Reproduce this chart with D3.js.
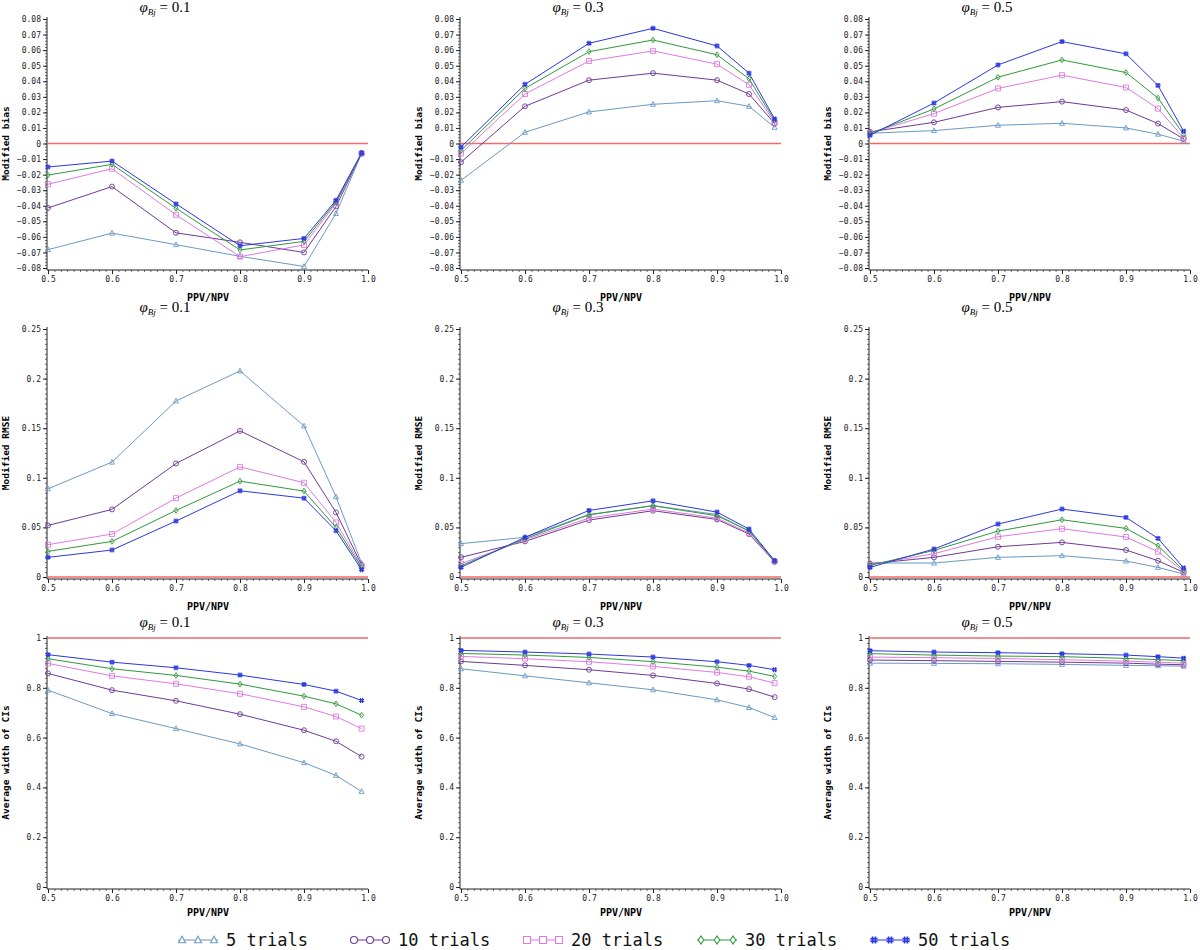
<!DOCTYPE html>
<html>
<head>
<meta charset="utf-8">
<script src="https://cdn.jsdelivr.net/npm/d3@7"></script>
<style>
  html, body { margin: 0; padding: 0; background: #fff; }
  svg { display: block; }
</style>
</head>
<body>
<svg id="chart" width="1200" height="950"></svg>
<script>
// ---------------- DATA ----------------
const ppv = [0.5, 0.6, 0.7, 0.8, 0.9, 0.95, 0.99];
const seriesNames = ["5 trials", "10 trials", "20 trials", "30 trials", "50 trials"];
const phiLabels = ["0.1", "0.3", "0.5"];

// Modified bias (rows: 5, 10, 20, 30, 50 trials)
const biasPhi01 = [
  [-0.0682, -0.0576, -0.0650, -0.0725, -0.0790, -0.0450, -0.0064],
  [-0.0414, -0.0277, -0.0574, -0.0635, -0.0700, -0.0405, -0.0064],
  [-0.0262, -0.0162, -0.0458, -0.0727, -0.0652, -0.0384, -0.0064],
  [-0.0203, -0.0134, -0.0416, -0.0684, -0.0629, -0.0375, -0.0064],
  [-0.0151, -0.0113, -0.0388, -0.0657, -0.0610, -0.0365, -0.0060]
];
const biasPhi03 = [
  [-0.0237, 0.0072, 0.0203, 0.0252, 0.0275, 0.0239, 0.0104],
  [-0.0120, 0.0239, 0.0407, 0.0452, 0.0407, 0.0318, 0.0128],
  [-0.0064, 0.0318, 0.0530, 0.0595, 0.0510, 0.0377, 0.0136],
  [-0.0045, 0.0354, 0.0590, 0.0665, 0.0570, 0.0416, 0.0147],
  [-0.0023, 0.0380, 0.0644, 0.0740, 0.0627, 0.0452, 0.0158]
];
const biasPhi05 = [
  [0.0066, 0.0083, 0.0117, 0.0130, 0.0100, 0.0060, 0.0015],
  [0.0075, 0.0136, 0.0232, 0.0269, 0.0215, 0.0128, 0.0030],
  [0.0068, 0.0192, 0.0354, 0.0439, 0.0360, 0.0224, 0.0036],
  [0.0064, 0.0222, 0.0426, 0.0537, 0.0456, 0.0292, 0.0058],
  [0.0053, 0.0260, 0.0505, 0.0655, 0.0576, 0.0373, 0.0079]
];
// Modified RMSE
const rmsePhi01 = [
  [0.0889, 0.1158, 0.1775, 0.2077, 0.1523, 0.0809, 0.0140],
  [0.0520, 0.0681, 0.1144, 0.1473, 0.1161, 0.0651, 0.0120],
  [0.0326, 0.0433, 0.0795, 0.1110, 0.0950, 0.0550, 0.0110],
  [0.0258, 0.0359, 0.0671, 0.0966, 0.0866, 0.0500, 0.0097],
  [0.0198, 0.0272, 0.0564, 0.0869, 0.0795, 0.0466, 0.0074]
];
const rmsePhi03 = [
  [0.0336, 0.0400, 0.0630, 0.0720, 0.0630, 0.0460, 0.0165],
  [0.0198, 0.0359, 0.0574, 0.0668, 0.0580, 0.0433, 0.0154],
  [0.0134, 0.0376, 0.0594, 0.0685, 0.0594, 0.0443, 0.0158],
  [0.0114, 0.0386, 0.0627, 0.0718, 0.0617, 0.0466, 0.0158],
  [0.0097, 0.0400, 0.0671, 0.0768, 0.0654, 0.0483, 0.0164]
];
const rmsePhi05 = [
  [0.0141, 0.0141, 0.0198, 0.0215, 0.0161, 0.0097, 0.0030],
  [0.0134, 0.0198, 0.0305, 0.0349, 0.0272, 0.0164, 0.0047],
  [0.0124, 0.0235, 0.0406, 0.0487, 0.0403, 0.0255, 0.0057],
  [0.0117, 0.0268, 0.0463, 0.0577, 0.0490, 0.0315, 0.0067],
  [0.0097, 0.0282, 0.0534, 0.0685, 0.0601, 0.0389, 0.0091]
];
// Average width of CIs
const widthPhi01 = [
  [0.7906, 0.6966, 0.6362, 0.5745, 0.4993, 0.4483, 0.3839],
  [0.8577, 0.7906, 0.7477, 0.6940, 0.6295, 0.5852, 0.5235],
  [0.8980, 0.8480, 0.8160, 0.7760, 0.7235, 0.6846, 0.6360],
  [0.9168, 0.8765, 0.8497, 0.8148, 0.7664, 0.7356, 0.6900],
  [0.9330, 0.9030, 0.8805, 0.8510, 0.8134, 0.7866, 0.7490]
];
const widthPhi03 = [
  [0.8765, 0.8480, 0.8200, 0.7920, 0.7517, 0.7208, 0.6805],
  [0.9060, 0.8900, 0.8725, 0.8497, 0.8174, 0.7946, 0.7624],
  [0.9260, 0.9168, 0.9047, 0.8860, 0.8617, 0.8443, 0.8188],
  [0.9380, 0.9315, 0.9220, 0.9050, 0.8830, 0.8670, 0.8456],
  [0.9503, 0.9436, 0.9356, 0.9235, 0.9047, 0.8900, 0.8725]
];
const widthPhi05 = [
  [0.8990, 0.8980, 0.8966, 0.8940, 0.8900, 0.8886, 0.8870],
  [0.9114, 0.9090, 0.9060, 0.9030, 0.8990, 0.8950, 0.8926],
  [0.9235, 0.9210, 0.9180, 0.9130, 0.9070, 0.9030, 0.8990],
  [0.9370, 0.9315, 0.9275, 0.9250, 0.9180, 0.9130, 0.9090],
  [0.9490, 0.9436, 0.9410, 0.9370, 0.9315, 0.9250, 0.9190]
];

// axis tick values
const xTicks = [0.5, 0.6, 0.7, 0.8, 0.9, 1.0];
const xTickLabels = ["0.5", "0.6", "0.7", "0.8", "0.9", "1.0"];
const biasTicks = [-0.08, -0.07, -0.06, -0.05, -0.04, -0.03, -0.02, -0.01, 0, 0.01, 0.02, 0.03, 0.04, 0.05, 0.06, 0.07, 0.08];
const rmseTicks = [0, 0.05, 0.1, 0.15, 0.2, 0.25];
const widthTicks = [0, 0.2, 0.4, 0.6, 0.8, 1];
const rowTitles = ["Modified bias", "Modified RMSE", "Average width of CIs"];
const refLines = [0, 0, 1];

// ---------------- STYLE / LAYOUT ----------------
const colors = ["#6b9ac4", "#6f3a94", "#e07ae0", "#2f9a3a", "#2b38e0"];
const markers = ["triangle", "circle", "square", "diamond", "hash"];
const colX = [48, 461, 870];
const plotW = 320;
const rowY = [[19, 268], [329, 577], [638, 887]];
const xLabelY = [297, 606, 912];
const titleY = [12, 312, 627];
const monoFont = "'DejaVu Sans Mono', 'Liberation Mono', monospace";

const rows = [
  { data: [biasPhi01, biasPhi03, biasPhi05], ticks: biasTicks, domain: [-0.08, 0.08], minor: 5,
    fmt: v => v === 0 ? "0" : d3.format(".2f")(v) },
  { data: [rmsePhi01, rmsePhi03, rmsePhi05], ticks: rmseTicks, domain: [0, 0.25], minor: 10,
    fmt: v => v === 0 ? "0" : d3.format("~g")(v) },
  { data: [widthPhi01, widthPhi03, widthPhi05], ticks: widthTicks, domain: [0, 1], minor: 10,
    fmt: v => d3.format("~g")(v) }
];

const svg = d3.select("#chart");

function markerPath(type, s) {
  const h = s / 2;
  switch (type) {
    case "triangle": return `M0,${-h * 1.1}L${h},${h * 0.8}L${-h},${h * 0.8}Z`;
    case "circle": return d3.symbol(d3.symbolCircle, Math.PI * h * h)();
    case "square": return `M${-h},${-h}H${h}V${h}H${-h}Z`;
    case "diamond": return `M0,${-h * 1.15}L${h * 0.8},0L0,${h * 1.15}L${-h * 0.8},0Z`;
    case "hash": {
      const a = h * 0.4;
      return `M${-a},${-h}V${h}M${a},${-h}V${h}M${-h},${-a}H${h}M${-h},${a}H${h}`;
    }
  }
}

rows.forEach((row, ri) => {
  const [yTop, yBot] = rowY[ri];
  const y = d3.scaleLinear().domain(row.domain).range([yBot, yTop]);
  const step = row.ticks[1] - row.ticks[0];

  row.data.forEach((panel, ci) => {
    const x0 = colX[ci];
    const x = d3.scaleLinear().domain([0.5, 1.0]).range([x0, x0 + plotW]);
    const g = svg.append("g");

    // minor ticks Y
    const minorY = d3.range(row.domain[0], row.domain[1] + 1e-9, step / row.minor);
    g.append("g")
      .attr("transform", `translate(${x0 - 1},0)`)
      .call(d3.axisLeft(y).tickValues(minorY).tickSize(2).tickFormat(""))
      .call(s => s.select(".domain").remove())
      .call(s => s.selectAll("line").attr("stroke", "#333").attr("stroke-width", 0.7));
    // major Y axis
    const yAxis = g.append("g")
      .attr("transform", `translate(${x0 - 1},0)`)
      .call(d3.axisLeft(y).tickValues(row.ticks).tickSize(4).tickSizeOuter(0).tickFormat(row.fmt).tickPadding(2));
    yAxis.select(".domain").attr("stroke", "#222").attr("d", `M0,${yTop - 2}V${yBot + 2}`);
    yAxis.selectAll("line").attr("stroke", "#222");
    yAxis.selectAll("text").attr("font-family", monoFont).attr("font-size", 8).attr("fill", "#222");

    // minor ticks X
    const minorX = d3.range(0.5, 1.0 + 1e-9, 0.01);
    g.append("g")
      .attr("transform", `translate(0,${yBot + 2})`)
      .call(d3.axisBottom(x).tickValues(minorX).tickSize(2).tickFormat(""))
      .call(s => s.select(".domain").remove())
      .call(s => s.selectAll("line").attr("stroke", "#333").attr("stroke-width", 0.7));
    const xAxis = g.append("g")
      .attr("transform", `translate(0,${yBot + 2})`)
      .call(d3.axisBottom(x).tickValues(xTicks).tickSize(4).tickSizeOuter(0)
        .tickFormat((d, i) => xTickLabels[i]).tickPadding(2));
    xAxis.select(".domain").attr("stroke", "#222").attr("d", `M${x0 - 1},0H${x0 + plotW}`);
    xAxis.selectAll("line").attr("stroke", "#222");
    xAxis.selectAll("text").attr("font-family", monoFont).attr("font-size", 8).attr("fill", "#222");

    // Y label
    const cy = (yTop + yBot) / 2;
    g.append("text")
      .attr("transform", `translate(${x0 - 39},${cy}) rotate(-90)`)
      .attr("text-anchor", "middle")
      .attr("font-family", monoFont).attr("font-size", 9.5).attr("font-weight", "bold")
      .text(rowTitles[ri]);
    // X label
    g.append("text")
      .attr("x", x0 + plotW / 2).attr("y", xLabelY[ri] + 4)
      .attr("text-anchor", "middle")
      .attr("font-family", monoFont).attr("font-size", 10).attr("font-weight", "bold")
      .text("PPV/NPV");
    // Title
    const t = g.append("text")
      .attr("x", x0 + plotW / 2 - 43).attr("y", titleY[ri])
      .attr("text-anchor", "middle")
      .attr("font-family", "'Liberation Serif', 'Times New Roman', serif").attr("font-size", 15);
    t.append("tspan").attr("font-style", "italic").text("φ");
    t.append("tspan").attr("font-style", "italic").attr("font-size", 9).attr("dy", 3).text("Bj");
    t.append("tspan").attr("dy", -3).text(" = " + phiLabels[ci]);

    // Reference red line
    g.append("line")
      .attr("x1", x0).attr("x2", x0 + plotW)
      .attr("y1", y(refLines[ri])).attr("y2", y(refLines[ri]))
      .attr("stroke", "#f06a6a").attr("stroke-width", 1.5);

    // Series
    const line = d3.line().x((d, i) => x(ppv[i])).y(d => y(d));
    panel.forEach((vals, si) => {
      g.append("path")
        .attr("d", line(vals))
        .attr("fill", "none")
        .attr("stroke", colors[si])
        .attr("stroke-width", 1);
      g.selectAll(null).data(vals).enter().append("path")
        .attr("transform", (d, i) => `translate(${x(ppv[i])},${y(d)})`)
        .attr("d", markerPath(markers[si], 5))
        .attr("fill", "none")
        .attr("stroke", colors[si])
        .attr("stroke-width", markers[si] === "hash" ? 1.2 : 0.9);
    });
  });
});

// ---------------- LEGEND ----------------
const legendSymX = [178, 350, 523, 697, 870];
const legendY = 940;
const lg = svg.append("g");
seriesNames.forEach((name, i) => {
  const sx = legendSymX[i];
  lg.append("line")
    .attr("x1", sx).attr("x2", sx + 40)
    .attr("y1", legendY).attr("y2", legendY)
    .attr("stroke", colors[i]).attr("stroke-width", 1.2);
  [4, 20, 36].forEach(off => {
    lg.append("path")
      .attr("transform", `translate(${sx + off},${legendY})`)
      .attr("d", markerPath(markers[i], 7))
      .attr("fill", "#fff")
      .attr("stroke", colors[i])
      .attr("stroke-width", markers[i] === "hash" ? 1.5 : 1.1);
  });
  lg.append("text")
    .attr("x", sx + 48).attr("y", legendY + 6)
    .attr("font-family", monoFont).attr("font-size", 17)
    .attr("fill", "#111")
    .text(name);
});
</script>
</body>
</html>
